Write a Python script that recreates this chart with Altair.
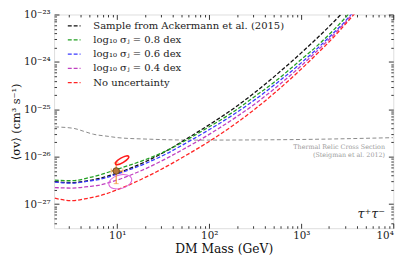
import altair as alt
import pandas as pd

FONT = "DejaVu Serif"

# ---------------- data ----------------
series_names = [
    "Sample from Ackermann et al. (2015)",
    "log₁₀ σⱼ = 0.8 dex",
    "log₁₀ σⱼ = 0.6 dex",
    "log₁₀ σⱼ = 0.4 dex",
    "No uncertainty",
]
series_colors = ["#111111", "#22a022", "#3a3aff", "#c040c0", "#ff2424"]

mass_grid = [2.1, 3.2, 4.9, 6.2, 10.2, 21.3, 34.8, 52.8, 92.9, 194, 302, 519, 1007, 1387, 2267, 2760, 4000]

black_sv = [2.98e-27, 2.84e-27, 3.13e-27, 3.44e-27, 4.57e-27, 8.22e-27, 1.35e-26, 2.19e-26, 4.31e-26,
            1.12e-25, 2.14e-25, 5.07e-25, 1.57e-24, 2.79e-24, 7.08e-24, 1.05e-23, 2.40e-23]
green_sv = [3.19e-27, 3.11e-27, 3.60e-27, 4.04e-27, 5.50e-27, 9.02e-27, 1.35e-26, 2.09e-26, 3.93e-26,
            9.55e-26, 1.78e-25, 3.85e-25, 1.14e-24, 1.93e-24, 4.79e-24, 7.11e-24, 1.62e-23]
blue_sv = [2.91e-27, 2.77e-27, 3.06e-27, 3.28e-27, 4.37e-27, 7.50e-27, 1.17e-26, 1.82e-26, 3.42e-26,
           8.32e-26, 1.51e-25, 3.35e-25, 9.66e-25, 1.68e-24, 4.17e-24, 6.05e-24, 1.38e-23]
magenta_sv = [2.23e-27, 2.18e-27, 2.35e-27, 2.49e-27, 3.27e-27, 5.82e-27, 9.33e-27, 1.45e-26, 2.72e-26,
              6.76e-26, 1.23e-25, 2.79e-25, 8.41e-25, 1.50e-24, 3.80e-24, 5.65e-24, 1.29e-23]
red_sv = [1.33e-27, 1.18e-27, 1.34e-27, 1.47e-27, 2.04e-27, 3.85e-27, 6.31e-27, 1.00e-26, 1.92e-26,
          5.01e-26, 9.55e-26, 2.26e-25, 7.16e-25, 1.30e-24, 3.39e-24, 5.15e-24, 1.17e-23]

thermal_mass = [2.11, 3.37, 4.31, 5.51, 7.96, 10.2, 21.3, 72.6, 849, 9910]
thermal_sv = [4.25e-26, 3.96e-26, 3.44e-26, 2.98e-26, 2.69e-26, 2.52e-26, 2.35e-26, 2.24e-26, 2.30e-26, 2.52e-26]

point_mass = [9.75]
point_sv = [5.0e-27]
point_sv_lo = [2.7e-27]
point_sv_hi = [7.4e-27]
point_mass_lo = [8.6]
point_mass_hi = [11.5]

red_ell_mass = [11.3]
red_ell_sv = [8.4e-27]
mag_ell_mass = [10.8]
mag_ell_sv = [2.96e-27]

x_major = [10, 100, 1000, 10000]
y_major = [1e-27, 1e-26, 1e-25, 1e-24, 1e-23]
x_ticks = sorted(set([m * d for d in [1, 10, 100, 1000] for m in range(3, 10)] +
                     [m * d for d in [10, 100, 1000] for m in range(1, 3)] + [10000]))
y_ticks = [m * 10.0 ** e for e in [-28, -27, -26, -25, -24] for m in range(1, 10)] + [1e-23]
y_ticks = [v for v in y_ticks if v > 3.2e-28]

rows = []
for name, vals in zip(series_names, [black_sv, green_sv, blue_sv, magenta_sv, red_sv]):
    for m, v in zip(mass_grid, vals):
        rows.append({"mass": m, "sv": v, "series": name})
curves = pd.DataFrame(rows)
thermal = pd.DataFrame({"mass": thermal_mass, "sv": thermal_sv})
pt = pd.DataFrame({"mass": point_mass, "sv": point_sv, "lo": point_sv_lo, "hi": point_sv_hi,
                   "mlo": point_mass_lo, "mhi": point_mass_hi})
red_ell = pd.DataFrame({"mass": red_ell_mass, "sv": red_ell_sv})
mag_ell = pd.DataFrame({"mass": mag_ell_mass, "sv": mag_ell_sv})
notes = pd.DataFrame({"mass": [8130, 8130], "sv": [1.61e-26, 1.10e-26],
                      "txt": ["Thermal Relic Cross Section", "(Steigman et al. 2012)"]})
chan = pd.DataFrame({"mass": [8130], "sv": [6.3e-28], "txt": ["τ⁺τ⁻"]})

# ---------------- layout ----------------
W, H = 346, 218
x_scale = alt.Scale(type="log", domain=[2.06, 10000])
y_scale = alt.Scale(type="log", domain=[3.1e-28, 1e-23])
major_test = "abs(log(datum.value)/LN10 - round(log(datum.value)/LN10)) < 0.001"
tick_size = {"condition": {"test": major_test, "value": 5}, "value": 2.5}


def tick_axis(orient, offset, values):
    return alt.Axis(orient=orient, offset=offset, values=values, labels=False, domain=False,
                    grid=False, ticks=True, tickSize=tick_size, tickColor="#000",
                    tickWidth=0.8, title=None)


x_lab_axis = alt.Axis(
    orient="bottom", values=x_major, ticks=False, domain=False, grid=False,
    labelExpr="datum.value < 50 ? '10¹' : datum.value < 500 ? '10²' : datum.value < 5000 ? '10³' : '10⁴'",
    labelFont=FONT, labelFontSize=10.5, labelColor="#222", labelPadding=3,
    title="DM Mass (GeV)", titleFont=FONT, titleFontSize=12.5, titleFontWeight="normal",
    titleColor="#111", titlePadding=1)
y_lab_axis = alt.Axis(
    orient="left", values=y_major, ticks=False, domain=False, grid=False,
    labelExpr="datum.value < 3e-27 ? '10⁻²⁷' : datum.value < 3e-26 ? '10⁻²⁶' : datum.value < 3e-25 ? '10⁻²⁵' : datum.value < 3e-24 ? '10⁻²⁴' : '10⁻²³'",
    labelFont=FONT, labelFontSize=10.5, labelColor="#222", labelPadding=4,
    title="⟨σv⟩ (cm³ s⁻¹)", titleFont=FONT, titleFontSize=11.5, titleFontWeight="normal",
    titleColor="#111", titlePadding=2)

gray_layer = alt.Chart(thermal).mark_line(
    color="#888888", strokeDash=[4, 2.5], strokeWidth=1, clip=True, interpolate="monotone"
).encode(
    x=alt.X("mass:Q", scale=x_scale, axis=tick_axis("top", -H, x_ticks)),
    y=alt.Y("sv:Q", scale=y_scale, axis=tick_axis("right", -W, y_ticks)),
)

curve_layer = alt.Chart(curves).mark_line(
    strokeDash=[4, 2], strokeWidth=1.3, clip=True, interpolate="monotone"
).encode(
    x=alt.X("mass:Q", scale=x_scale, axis=x_lab_axis),
    y=alt.Y("sv:Q", scale=y_scale, axis=y_lab_axis),
    color=alt.Color("series:N", scale=alt.Scale(domain=series_names, range=series_colors),
                    legend=alt.Legend(title=None, orient="none", legendX=13, legendY=4,
                                      symbolType="stroke", symbolSize=169,
                                      symbolStrokeWidth=1.3, symbolDash=[4, 2],
                                      labelFont=FONT, labelFontSize=10.2, labelColor="#222",
                                      labelOffset=12, rowPadding=1.5, padding=0,
                                      labelLimit=300)),
)

mag_layer = alt.Chart(mag_ell).mark_point(
    shape="M -1 0 A 1 0.58 0 1 0 1 0 A 1 0.58 0 1 0 -1 0",
    size=576, angle=345, filled=False, stroke="#dd66dd", strokeWidth=1, opacity=1
).encode(
    x=alt.X("mass:Q", scale=x_scale, axis=None),
    y=alt.Y("sv:Q", scale=y_scale, axis=None),
)

vbar = alt.Chart(pt).mark_rule(color="#f39a3a", strokeWidth=1.2).encode(
    x=alt.X("mass:Q", scale=x_scale, axis=tick_axis("bottom", -H, x_ticks)),
    y=alt.Y("lo:Q", scale=y_scale, axis=tick_axis("left", -W, y_ticks)),
    y2="hi:Q",
)
hbar = alt.Chart(pt).mark_rule(color="#f39a3a", strokeWidth=1.2).encode(
    x=alt.X("mlo:Q", scale=x_scale, axis=None),
    x2="mhi:Q",
    y=alt.Y("sv:Q", scale=y_scale, axis=None),
)
vcap_lo = alt.Chart(pt).mark_tick(color="#f39a3a", orient="horizontal", size=5, thickness=1).encode(
    x=alt.X("mass:Q", scale=x_scale, axis=None), y=alt.Y("lo:Q", scale=y_scale, axis=None))
vcap_hi = alt.Chart(pt).mark_tick(color="#f39a3a", orient="horizontal", size=5, thickness=1).encode(
    x=alt.X("mass:Q", scale=x_scale, axis=None), y=alt.Y("hi:Q", scale=y_scale, axis=None))
hcap_lo = alt.Chart(pt).mark_tick(color="#f39a3a", orient="vertical", size=5, thickness=1).encode(
    x=alt.X("mlo:Q", scale=x_scale, axis=None), y=alt.Y("sv:Q", scale=y_scale, axis=None))
hcap_hi = alt.Chart(pt).mark_tick(color="#f39a3a", orient="vertical", size=5, thickness=1).encode(
    x=alt.X("mhi:Q", scale=x_scale, axis=None), y=alt.Y("sv:Q", scale=y_scale, axis=None))
dot = alt.Chart(pt).mark_point(filled=True, size=45, fill="#b5773a", stroke="#5a3a14",
                               strokeWidth=0.8, opacity=1).encode(
    x=alt.X("mass:Q", scale=x_scale, axis=None), y=alt.Y("sv:Q", scale=y_scale, axis=None))

red_layer = alt.Chart(red_ell).mark_point(
    shape="M -1 0 A 1 0.32 0 1 0 1 0 A 1 0.32 0 1 0 -1 0",
    size=240, angle=330, filled=False, stroke="#ff1a1a", strokeWidth=1.5, opacity=1
).encode(
    x=alt.X("mass:Q", scale=x_scale, axis=None),
    y=alt.Y("sv:Q", scale=y_scale, axis=None),
)

note_layer = alt.Chart(notes).mark_text(
    font=FONT, fontSize=6.5, color="#9a9a9a", align="right", baseline="middle"
).encode(
    x=alt.X("mass:Q", scale=x_scale, axis=None),
    y=alt.Y("sv:Q", scale=y_scale, axis=None),
    text="txt:N",
)
chan_layer = alt.Chart(chan).mark_text(
    font=FONT, fontSize=13, color="#222222", align="right", baseline="middle", fontStyle="italic"
).encode(
    x=alt.X("mass:Q", scale=x_scale, axis=None),
    y=alt.Y("sv:Q", scale=y_scale, axis=None),
    text="txt:N",
)

chart = alt.layer(
    gray_layer, curve_layer, mag_layer, vbar, hbar, vcap_lo, vcap_hi, hcap_lo, hcap_hi,
    dot, red_layer, note_layer, chan_layer
).resolve_axis(x="independent", y="independent").properties(
    width=W, height=H,
    autosize=alt.AutoSizeParams(type="none"),
    padding={"left": 47, "top": 4, "right": 14, "bottom": 40},
).configure_view(stroke="#000000", strokeWidth=1).configure(background="white")

chart.save("out.html", embed_options={"renderer": "svg", "actions": False})
